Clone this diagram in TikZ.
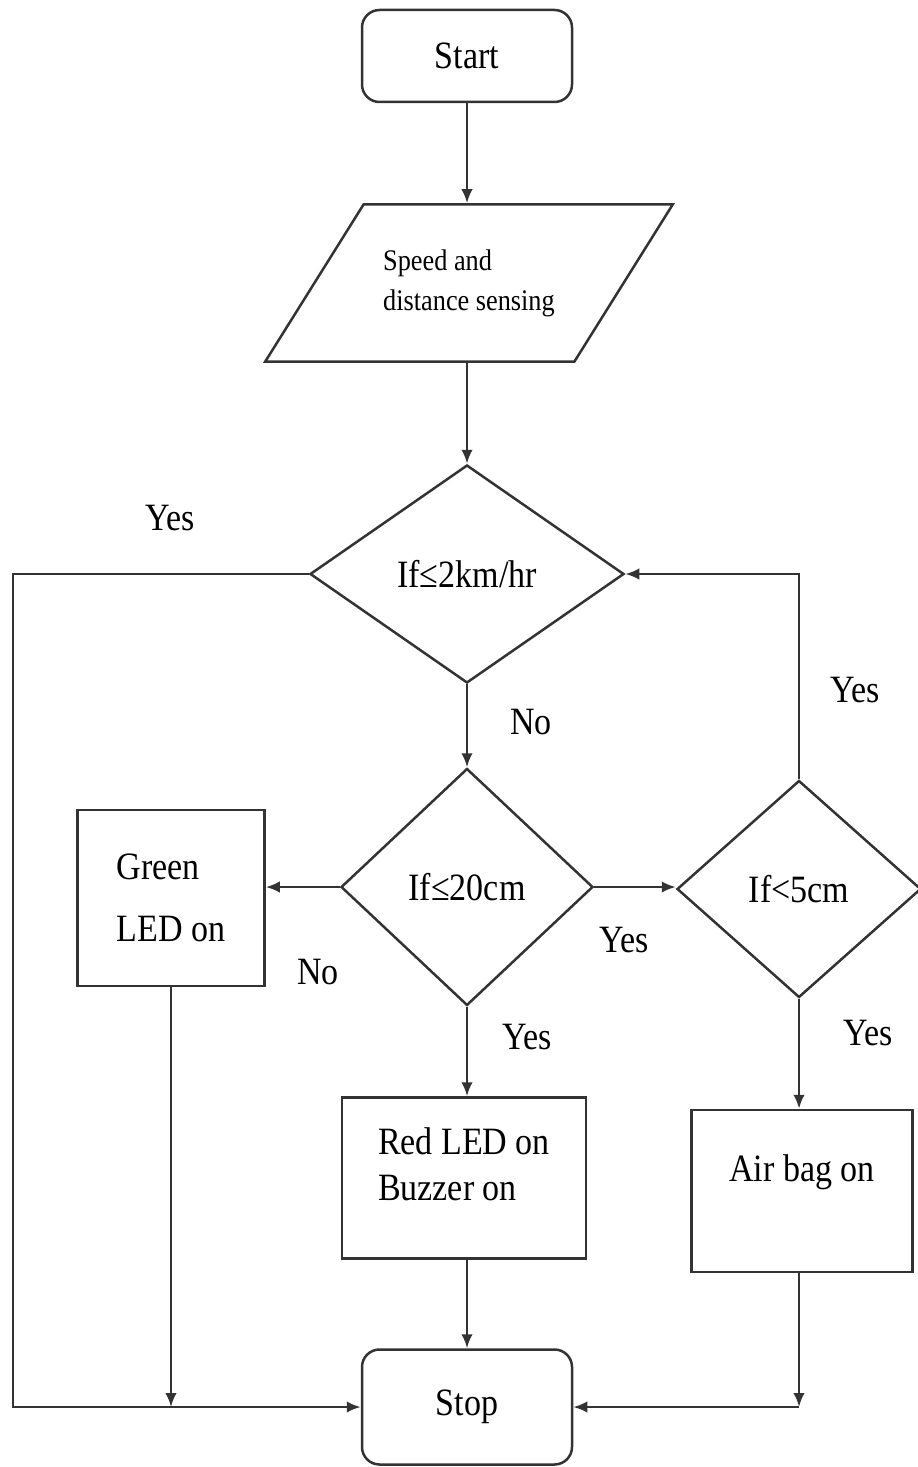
\documentclass[tikz,border=0pt]{standalone}
\usepackage{fontspec}
\setmainfont{Liberation Serif}[FakeStretch=0.88]
\usetikzlibrary{shapes.geometric,arrows.meta}
\definecolor{edgegray}{HTML}{333333}

\begin{document}
\begin{tikzpicture}[
            x=0.2mm, y=-0.2mm,
            line width=0.5mm,
            >={Latex[length=2.8mm,width=2.3mm]},
            font=\fontsize{22}{26}\selectfont,
            term/.style={draw=edgegray, rounded corners=3.5mm, minimum width=42mm},
            io/.style={draw=edgegray, trapezium, trapezium left angle=40,
                trapezium right angle=140, trapezium stretches,
                minimum width=81.6mm, minimum height=31.4mm, inner sep=0},
            decision/.style={draw=edgegray, diamond, inner sep=0},
            process/.style={draw=edgegray, rectangle, align=left},
            flow/.style={draw=edgegray, ->}]
        \useasboundingbox (0,0) rectangle (917,1467);

        \node (start) [term, minimum height=18.4mm] at (467,56) {Start};
        \node (sense) [io, align=left, font=\fontsize{17}{22.7}\selectfont] at (469,283)
            {Speed and\\distance sensing};
        \node (if2km)  [decision, minimum width=62.8mm, minimum height=43.6mm] at (467,574) {If≤2km/hr};
        \node (if20cm) [decision, minimum width=50.4mm, minimum height=47.4mm] at (467,887) {If≤20cm};
        \node (if5cm)  [decision, minimum width=48.8mm, minimum height=43.4mm] at (799,889) {If<5cm};
        \node (green)  [process, minimum width=37.4mm, minimum height=35.2mm] at (171,898) {Green\\[3.2mm]LED on};
        \node (red)    [process, minimum width=48.8mm, minimum height=32.2mm, text depth=5.6mm] at (464,1178)
            {Red LED on\\Buzzer on};
        \node (airbag) [process, minimum width=44.2mm, minimum height=32.4mm, text depth=9.2mm] at (802,1191)
            {Air bag on};
        \node (stop) [term, minimum height=23mm] at (467,1407) {Stop};

        % branch labels
        \node (yes2km)   at (170,518)  {Yes};
        \node (no2km)    at (531,722)  {No};
        \node (no20cm)   at (318,972)  {No};
        \node (yes20cm)  at (624,940)  {Yes};
        \node (down20cm) at (527,1037) {Yes};
        \node (loop5cm)  at (855,690)  {Yes};
        \node (yes5cm)   at (868,1033) {Yes};

        \coordinate (leftrail) at (13,574);
        \coordinate (airturn) at (if5cm.south |- stop.east);

        \draw [flow] (start.south) -- (start.south |- sense.north);
        \draw [flow] (if2km.north |- sense.south) -- (if2km.north);
        \draw [flow] (if2km.south) -- (if20cm.north);
        \draw [flow] (if20cm.west) -- (if20cm.west -| green.east);
        \draw [flow] (if20cm.east) -- (if20cm.east -| if5cm.west);
        \draw [flow] (if5cm.north) |- (if2km.east);
        \draw [flow] (if20cm.south) -- (if20cm.south |- red.north);
        \draw [flow] (if5cm.south) -- (if5cm.south |- airbag.north);
        \draw [flow] (stop.north |- red.south) -- (stop.north);
        \draw [flow] (airturn |- airbag.south) -- (airturn);
        \draw [flow] (airturn) -- (stop.east);
        \draw [flow] (green.south) -- (green.south |- stop.west);
        \draw [flow] (if2km.west) -- (if2km.west -| leftrail) |- (stop.west);
    \end{tikzpicture}
\end{document}
